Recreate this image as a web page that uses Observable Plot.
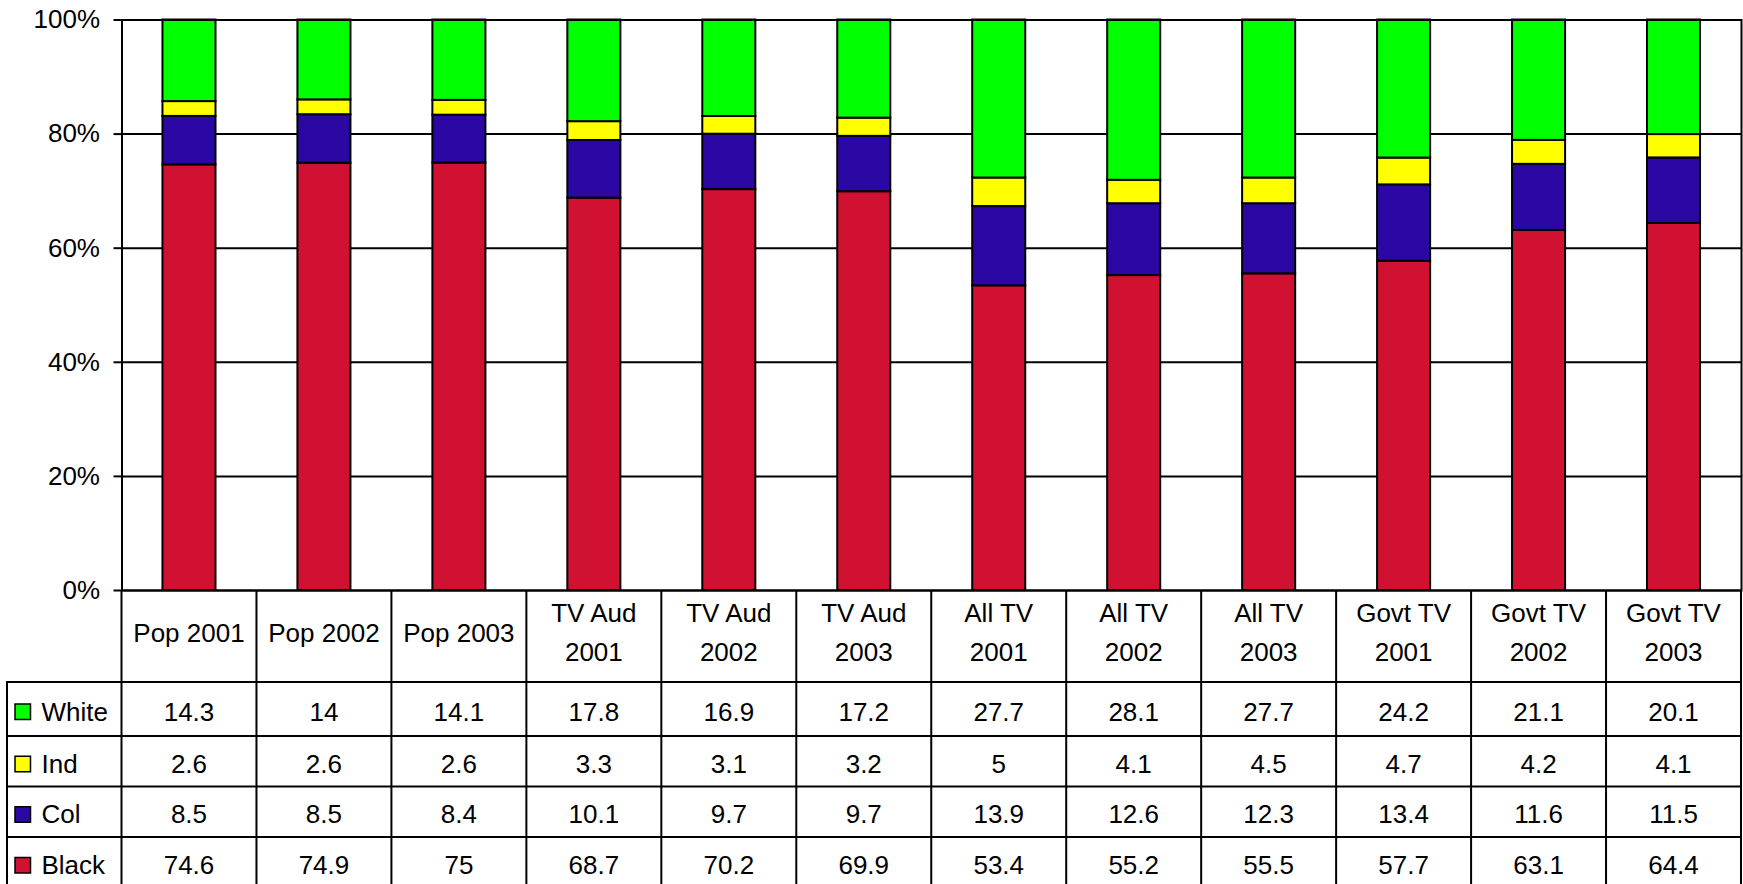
<!DOCTYPE html>
<html>
<head>
<meta charset="utf-8">
<script src="https://cdn.jsdelivr.net/npm/d3@7"></script>
<script src="https://cdn.jsdelivr.net/npm/@observablehq/plot@0.6"></script>
<style>
  body { margin: 0; background: #fff; }
  svg { display: block; }
</style>
</head>
<body>
<div id="chart"></div>
<script>
// Audience / population shares by group (percent)
const categories = [
  "Pop 2001", "Pop 2002", "Pop 2003",
  "TV Aud 2001", "TV Aud 2002", "TV Aud 2003",
  "All TV 2001", "All TV 2002", "All TV 2003",
  "Govt TV 2001", "Govt TV 2002", "Govt TV 2003"
];
const white = [14.3, 14, 14.1, 17.8, 16.9, 17.2, 27.7, 28.1, 27.7, 24.2, 21.1, 20.1];
const ind   = [2.6, 2.6, 2.6, 3.3, 3.1, 3.2, 5, 4.1, 4.5, 4.7, 4.2, 4.1];
const col   = [8.5, 8.5, 8.4, 10.1, 9.7, 9.7, 13.9, 12.6, 12.3, 13.4, 11.6, 11.5];
const black = [74.6, 74.9, 75, 68.7, 70.2, 69.9, 53.4, 55.2, 55.5, 57.7, 63.1, 64.4];

const tableOrder = ["White", "Ind", "Col", "Black"];   // rows of the data table
const stackOrder = ["Black", "Col", "Ind", "White"];   // bottom to top in the bars
const seriesValues = { White: white, Ind: ind, Col: col, Black: black };
const seriesColors = { White: "#00ff00", Ind: "#ffff00", Col: "#2b08a3", Black: "#d11131" };

const rows = stackOrder.flatMap(s =>
  categories.map((c, i) => ({ category: c, series: s, value: seriesValues[s][i] }))
);

const W = 1743, H = 884;
const font = "'Liberation Sans', Arial, Helvetica, sans-serif";

const chart = Plot.plot({
  width: W,
  height: H,
  marginLeft: 121.5,
  marginRight: 2,
  marginTop: 19.5,
  marginBottom: 294,
  style: { fontFamily: font, fontSize: "26px", color: "#000", background: "#fff", overflow: "visible" },
  x: { domain: categories, paddingInner: 0.607, paddingOuter: 0.3035, round: false, axis: null },
  y: { domain: [0, 1], axis: null },
  color: { domain: stackOrder, range: stackOrder.map(s => seriesColors[s]) },
  marks: [
    Plot.gridY({ ticks: 5, stroke: "#000", strokeOpacity: 1, strokeWidth: 2 }),
    Plot.axisY({
      ticks: 5, tickFormat: d3.format(".0%"), tickSize: 8, tickPadding: 14,
      strokeWidth: 2, fontSize: 26, label: null
    }),
    Plot.barY(rows, Plot.stackY({
      offset: "normalize", order: stackOrder,
      x: "category", y: "value", fill: "series",
      stroke: "#000", strokeWidth: 2
    })),
    Plot.frame({ stroke: "#000", strokeWidth: 2 })
  ]
});

document.getElementById("chart").append(chart);

// Data table under the bars, columns aligned with the x scale
const xs = chart.scale("x");
const step = xs.step;
const centers = categories.map(c => xs.apply(c) + xs.bandwidth / 2);
const colRight = centers[centers.length - 1] + step / 2;
const tableTop = 590;
const rowBounds = [682, 736, 786.5, 837, 888];
const tableLeft = 7;

const svg = d3.select(chart);
const g = svg.append("g")
  .attr("font-family", font)
  .attr("font-size", 26)
  .attr("fill", "#000");

const lines = g.append("g").attr("stroke", "#000").attr("stroke-width", 2);
// column separators
centers.forEach(cx => {
  lines.append("line").attr("x1", cx - step / 2).attr("x2", cx - step / 2)
    .attr("y1", tableTop).attr("y2", H + 4);
});
lines.append("line").attr("x1", colRight).attr("x2", colRight).attr("y1", tableTop).attr("y2", H + 4);
lines.append("line").attr("x1", tableLeft).attr("x2", tableLeft).attr("y1", rowBounds[0] - 1).attr("y2", H + 4);
// row separators
rowBounds.forEach(y => {
  lines.append("line").attr("x1", tableLeft - 1).attr("x2", colRight + 1).attr("y1", y).attr("y2", y);
});

// column headers (wrapped onto two lines when long)
categories.forEach((c, i) => {
  const cut = c.lastIndexOf(" ");
  const parts = c.length > 8 ? [c.slice(0, cut), c.slice(cut + 1)] : [c];
  parts.forEach((p, j) => {
    g.append("text")
      .attr("x", centers[i])
      .attr("y", 632.5 + (j - (parts.length - 1) / 2) * 39)
      .attr("text-anchor", "middle")
      .attr("dominant-baseline", "central")
      .text(p);
  });
});

// value rows with legend keys
tableOrder.forEach((s, r) => {
  const cy = (rowBounds[r] + rowBounds[r + 1]) / 2 + 2.5;
  g.append("rect")
    .attr("x", 15).attr("y", cy - 7.5)
    .attr("width", 15.5).attr("height", 15.5)
    .attr("fill", seriesColors[s])
    .attr("stroke", "#000").attr("stroke-width", 1.5);
  g.append("text")
    .attr("x", 41.5).attr("y", cy)
    .attr("text-anchor", "start")
    .attr("dominant-baseline", "central")
    .text(s);
  seriesValues[s].forEach((v, i) => {
    g.append("text")
      .attr("x", centers[i]).attr("y", cy)
      .attr("text-anchor", "middle")
      .attr("dominant-baseline", "central")
      .text(String(v));
  });
});
</script>
</body>
</html>
